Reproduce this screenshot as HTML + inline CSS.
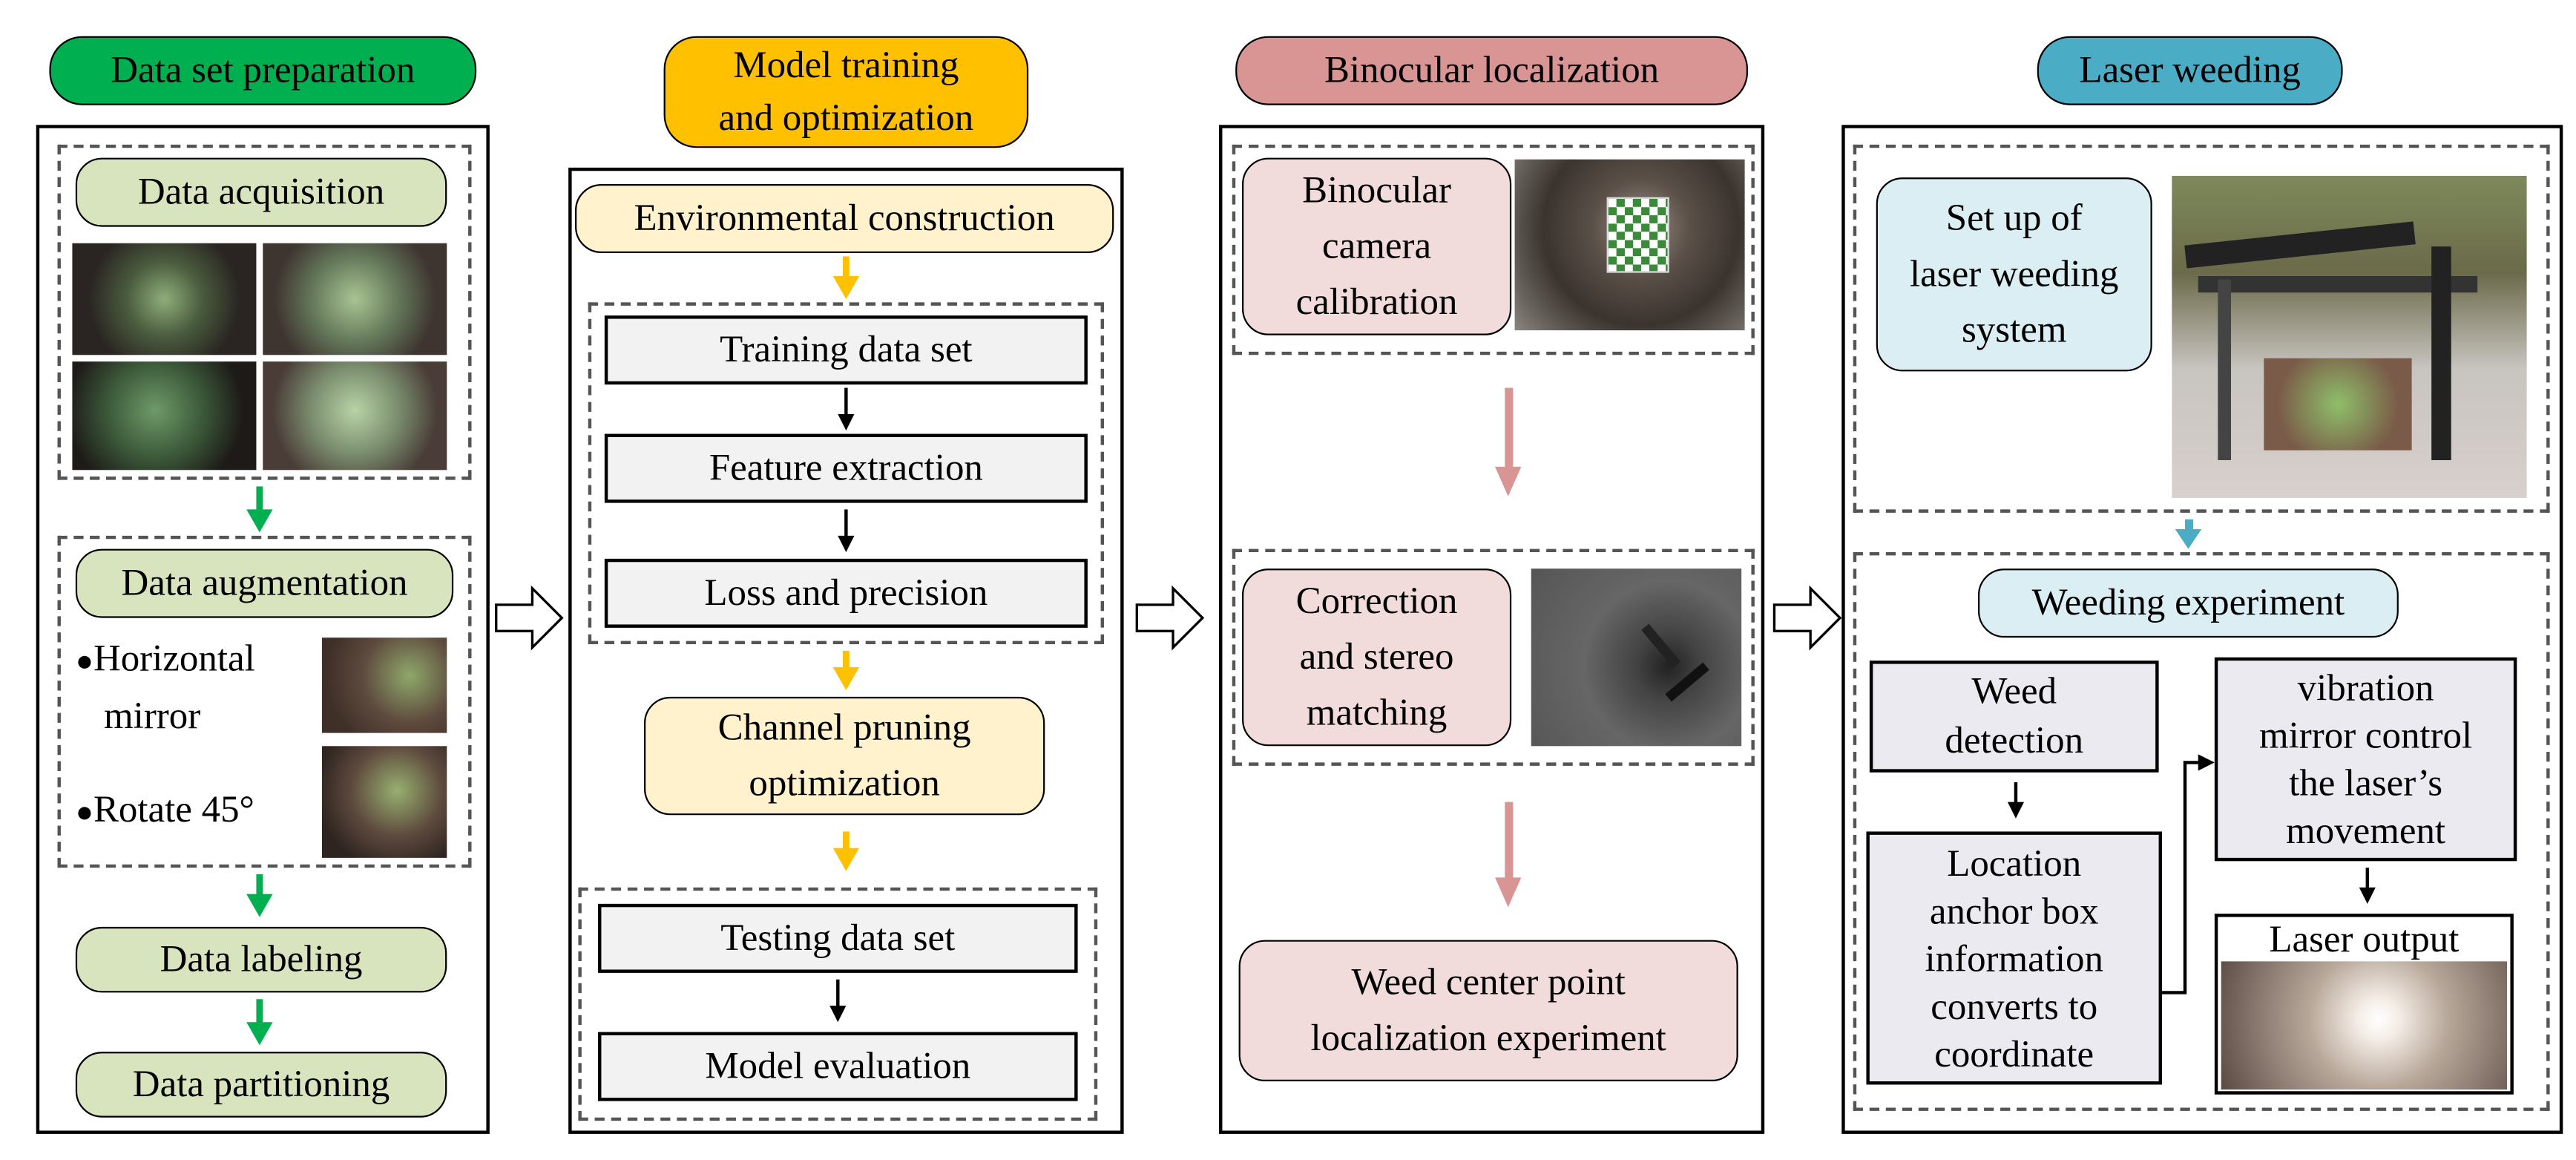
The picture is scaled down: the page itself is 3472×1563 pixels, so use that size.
<!DOCTYPE html>
<html><head><meta charset="utf-8"><style>
html,body{margin:0;padding:0;background:#fff;}
*{font-family:"Liberation Serif","Noto Serif CJK SC","DejaVu Serif",serif !important;}
body{width:3472px;height:1562px;overflow:hidden;position:relative;}
#c{position:absolute;left:0;top:0;width:1568px;height:706px;transform:scale(2.2143);transform-origin:0 0;font-size:23px;color:#000;}
#c div{position:absolute;box-sizing:border-box;}
.pill{border:1.5px solid #000;border-radius:16px;display:flex;align-items:center;justify-content:center;text-align:center;line-height:34px;white-space:nowrap;}
.box{border:2px solid #000;display:flex;align-items:center;justify-content:center;text-align:center;line-height:30px;white-space:nowrap;}
.panel{border:2px solid #000;}
.dash{border:2px dashed #555;}
</style></head><body><div id="c">

<div class="pill" style="left:30px;top:22px;width:260px;height:42px;background:#00B050;border-radius:20px;">Data set preparation</div>
<div class="pill" style="left:404px;top:22px;width:222px;height:68px;background:#FFC000;line-height:32px;border-radius:20px;">Model training<br>and optimization</div>
<div class="pill" style="left:752px;top:22px;width:312px;height:42px;background:#D99594;border-radius:20px;">Binocular localization</div>
<div class="pill" style="left:1240px;top:22px;width:186px;height:42px;background:#4BACC6;border-radius:20px;">Laser weeding</div>

<div class="panel" style="left:22px;top:76px;width:276px;height:614px;"></div>
<div class="dash" style="left:35px;top:88px;width:252px;height:204px;"></div>
<div class="pill" style="left:46px;top:96px;width:226px;height:42px;background:#D7E4BD;">Data acquisition</div>
<div style="left:44px;top:148px;width:112px;height:68px;background:radial-gradient(circle at 50% 50%,#8fae7a 0,#4a5c3e 35%,#2a2522 70%);"></div>
<div style="left:160px;top:148px;width:112px;height:68px;background:radial-gradient(circle at 50% 50%,#a9c493 0,#64785a 40%,#3e3430 75%);"></div>
<div style="left:44px;top:220px;width:112px;height:66px;background:radial-gradient(circle at 45% 45%,#6e9a68 0,#3c5a3a 40%,#1d1a18 75%);"></div>
<div style="left:160px;top:220px;width:112px;height:66px;background:radial-gradient(circle at 50% 45%,#b8d3a6 0,#7a8d6e 40%,#4a3d38 75%);"></div>
<div style="left:156px;top:296px;width:4px;height:16px;background:#00B050;"></div>
<div style="left:150px;top:310px;width:0;height:0;border-left:8px solid transparent;border-right:8px solid transparent;border-top:14px solid #00B050;"></div>
<div class="dash" style="left:35px;top:326px;width:252px;height:202px;"></div>
<div class="pill" style="left:46px;top:334px;width:230px;height:42px;background:#D7E4BD;">Data augmentation</div>
<div style="left:46px;top:384px;line-height:34px;"><span style="font-size:18px">●</span>Horizontal<br>&nbsp;&nbsp;&nbsp;mirror</div>
<div style="left:46px;top:476px;line-height:34px;"><span style="font-size:18px">●</span>Rotate 45°</div>
<div style="left:196px;top:388px;width:76px;height:58px;background:radial-gradient(circle at 70% 40%,#8fa86a 0,#5e4a3e 45%,#3e2f28 80%);"></div>
<div style="left:196px;top:454px;width:76px;height:68px;background:radial-gradient(circle at 60% 40%,#98b070 0,#5e4a3e 45%,#2e2420 80%);"></div>
<div style="left:156px;top:532px;width:4px;height:14px;background:#00B050;"></div>
<div style="left:150px;top:544px;width:0;height:0;border-left:8px solid transparent;border-right:8px solid transparent;border-top:14px solid #00B050;"></div>
<div class="pill" style="left:46px;top:564px;width:226px;height:40px;background:#D7E4BD;">Data labeling</div>
<div style="left:156px;top:608px;width:4px;height:16px;background:#00B050;"></div>
<div style="left:150px;top:622px;width:0;height:0;border-left:8px solid transparent;border-right:8px solid transparent;border-top:14px solid #00B050;"></div>
<div class="pill" style="left:46px;top:640px;width:226px;height:40px;background:#D7E4BD;">Data partitioning</div>

<div class="panel" style="left:346px;top:102px;width:338px;height:588px;"></div>
<div class="pill" style="left:350px;top:112px;width:328px;height:42px;background:#FFF2CC;">Environmental construction</div>
<div style="left:513px;top:156px;width:4px;height:14px;background:#FFC000;"></div>
<div style="left:507px;top:168px;width:0;height:0;border-left:8px solid transparent;border-right:8px solid transparent;border-top:14px solid #FFC000;"></div>
<div class="dash" style="left:358px;top:184px;width:314px;height:208px;"></div>
<div class="box" style="left:368px;top:192px;width:294px;height:42px;background:#F2F2F2;">Training data set</div>
<div style="left:514px;top:236px;width:2px;height:18px;background:#000;"></div>
<div style="left:510px;top:252px;width:0;height:0;border-left:5px solid transparent;border-right:5px solid transparent;border-top:10px solid #000;"></div>
<div class="box" style="left:368px;top:264px;width:294px;height:42px;background:#F2F2F2;">Feature extraction</div>
<div style="left:514px;top:310px;width:2px;height:18px;background:#000;"></div>
<div style="left:510px;top:326px;width:0;height:0;border-left:5px solid transparent;border-right:5px solid transparent;border-top:10px solid #000;"></div>
<div class="box" style="left:368px;top:340px;width:294px;height:42px;background:#F2F2F2;">Loss and precision</div>
<div style="left:513px;top:396px;width:4px;height:12px;background:#FFC000;"></div>
<div style="left:507px;top:406px;width:0;height:0;border-left:8px solid transparent;border-right:8px solid transparent;border-top:14px solid #FFC000;"></div>
<div class="pill" style="left:392px;top:424px;width:244px;height:72px;background:#FFF2CC;">Channel pruning<br>optimization</div>
<div style="left:513px;top:506px;width:4px;height:12px;background:#FFC000;"></div>
<div style="left:507px;top:516px;width:0;height:0;border-left:8px solid transparent;border-right:8px solid transparent;border-top:14px solid #FFC000;"></div>
<div class="dash" style="left:352px;top:540px;width:316px;height:142px;"></div>
<div class="box" style="left:364px;top:550px;width:292px;height:42px;background:#F2F2F2;">Testing data set</div>
<div style="left:509px;top:596px;width:2px;height:18px;background:#000;"></div>
<div style="left:505px;top:612px;width:0;height:0;border-left:5px solid transparent;border-right:5px solid transparent;border-top:10px solid #000;"></div>
<div class="box" style="left:364px;top:628px;width:292px;height:42px;background:#F2F2F2;">Model evaluation</div>

<svg style="position:absolute;left:300px;top:356px" width="46" height="40"><polygon points="2,12 24,12 24,2 42,20 24,38 24,28 2,28" fill="#fff" stroke="#000" stroke-width="1.5"/></svg>
<svg style="position:absolute;left:690px;top:356px" width="46" height="40"><polygon points="2,12 24,12 24,2 42,20 24,38 24,28 2,28" fill="#fff" stroke="#000" stroke-width="1.5"/></svg>
<svg style="position:absolute;left:1078px;top:356px" width="46" height="40"><polygon points="2,12 24,12 24,2 42,20 24,38 24,28 2,28" fill="#fff" stroke="#000" stroke-width="1.5"/></svg>

<div class="panel" style="left:742px;top:76px;width:332px;height:614px;"></div>
<div class="dash" style="left:750px;top:88px;width:318px;height:128px;"></div>
<div class="pill" style="left:756px;top:96px;width:164px;height:108px;background:#F2DCDB;">Binocular<br>camera<br>calibration</div>
<div style="left:922px;top:97px;width:140px;height:104px;background:radial-gradient(circle at 55% 40%,#9a8f88 0,#5a5048 30%,#3a332e 60%,#8a8580 100%);"></div>
<div style="left:978px;top:120px;width:38px;height:46px;background:repeating-conic-gradient(#3a8a3a 0 25%,#fff 0 50%) 0 0/10px 10px;border:1px solid #ddd;"></div>
<div style="left:916px;top:236px;width:5px;height:50px;background:#D99594;"></div>
<div style="left:910px;top:284px;width:0;height:0;border-left:8px solid transparent;border-right:8px solid transparent;border-top:18px solid #D99594;"></div>
<div class="dash" style="left:750px;top:334px;width:318px;height:132px;"></div>
<div class="pill" style="left:756px;top:346px;width:164px;height:108px;background:#F2DCDB;">Correction<br>and stereo<br>matching</div>
<div style="left:932px;top:346px;width:128px;height:108px;background:radial-gradient(circle at 65% 55%,#222 0,#444 20%,#666 50%,#555 100%);"></div>
<div style="left:1012px;top:412px;width:30px;height:6px;background:#111;transform:rotate(-40deg);"></div>
<div style="left:996px;top:390px;width:30px;height:6px;background:#222;transform:rotate(50deg);"></div>
<div style="left:916px;top:488px;width:5px;height:48px;background:#D99594;"></div>
<div style="left:910px;top:534px;width:0;height:0;border-left:8px solid transparent;border-right:8px solid transparent;border-top:18px solid #D99594;"></div>
<div class="pill" style="left:754px;top:572px;width:304px;height:86px;background:#F2DCDB;">Weed center point<br>localization experiment</div>

<div class="panel" style="left:1121px;top:76px;width:439px;height:614px;"></div>
<div class="dash" style="left:1128px;top:88px;width:424px;height:224px;"></div>
<div class="pill" style="left:1142px;top:108px;width:168px;height:118px;background:#DAEEF3;">Set up of<br>laser weeding<br>system</div>
<div style="left:1322px;top:107px;width:216px;height:196px;background:linear-gradient(180deg,#7d8a5a 0,#6b6a4a 30%,#c8c4c0 60%,#d8d0cc 100%);"></div>
<div style="left:1330px;top:142px;width:140px;height:14px;background:#222;transform:rotate(-6deg);"></div>
<div style="left:1338px;top:168px;width:170px;height:10px;background:#333;"></div>
<div style="left:1350px;top:170px;width:8px;height:110px;background:#444;"></div>
<div style="left:1480px;top:150px;width:12px;height:130px;background:#222;"></div>
<div style="left:1378px;top:218px;width:90px;height:56px;background:radial-gradient(circle,#8fbf6a 0,#7a5a48 70%);"></div>
<div style="left:1330px;top:316px;width:5px;height:8px;background:#4BACC6;"></div>
<div style="left:1324px;top:322px;width:0;height:0;border-left:8px solid transparent;border-right:8px solid transparent;border-top:12px solid #4BACC6;"></div>
<div class="dash" style="left:1128px;top:336px;width:424px;height:340px;"></div>
<div class="pill" style="left:1204px;top:346px;width:256px;height:42px;background:#DAEEF3;">Weeding experiment</div>
<div class="box" style="left:1138px;top:402px;width:176px;height:68px;background:#ECEAF1;">Weed<br>detection</div>
<div style="left:1226px;top:476px;width:2px;height:14px;background:#000;"></div>
<div style="left:1222px;top:488px;width:0;height:0;border-left:5px solid transparent;border-right:5px solid transparent;border-top:10px solid #000;"></div>
<div class="box" style="left:1136px;top:506px;width:180px;height:154px;background:#ECEAF1;line-height:29px;">Location<br>anchor box<br>information<br>converts to<br>coordinate</div>
<div class="box" style="left:1348px;top:400px;width:184px;height:124px;background:#ECEAF1;line-height:29px;">vibration<br>mirror control<br>the laser’s<br>movement</div>
<svg style="position:absolute;left:1316px;top:450px" width="34" height="160"><polyline points="0,154 14,154 14,14 24,14" fill="none" stroke="#000" stroke-width="2"/><polygon points="22,9 32,14 22,19" fill="#000"/></svg>
<div style="left:1440px;top:528px;width:2px;height:14px;background:#000;"></div>
<div style="left:1436px;top:540px;width:0;height:0;border-left:5px solid transparent;border-right:5px solid transparent;border-top:10px solid #000;"></div>
<div class="box" style="left:1348px;top:556px;width:182px;height:110px;align-items:flex-start;line-height:28px;">Laser output</div>
<div style="left:1352px;top:585px;width:174px;height:78px;background:radial-gradient(circle at 55% 45%,#fff 0,#f4ede6 12%,#b8a89a 40%,#5a4a44 100%);"></div>

</div></body></html>
